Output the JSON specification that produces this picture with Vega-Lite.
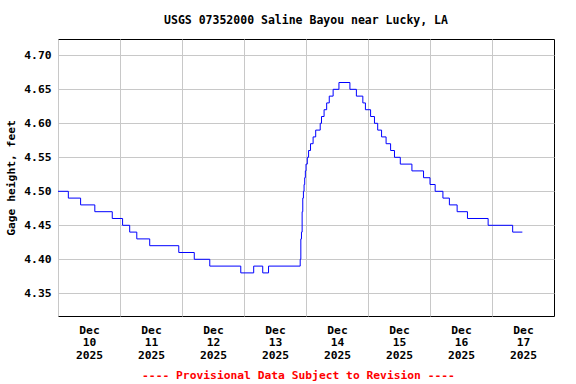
{
  "$schema": "https://vega.github.io/schema/vega-lite/v6.json",
  "width": 496,
  "height": 277,
  "autosize": {"type": "none"},
  "padding": {"left": 58, "top": 39, "right": 22, "bottom": 68},
  "background": "white",
  "title": {
    "text": "USGS 07352000 Saline Bayou near Lucky, LA",
    "font": "DejaVu Sans Mono",
    "fontSize": 11.5,
    "fontWeight": "bold",
    "color": "black",
    "frame": "group",
    "anchor": "middle",
    "baseline": "alphabetic",
    "offset": 4
  },
  "config": {
    "view": {"stroke": "black", "strokeWidth": 1},
    "axis": {
      "labelFont": "DejaVu Sans Mono",
      "labelFontSize": 11.3,
      "labelFontWeight": "bold",
      "labelColor": "black",
      "titleFont": "DejaVu Sans Mono",
      "titleFontSize": 11.3,
      "titleFontWeight": "bold",
      "titleColor": "black",
      "gridColor": "#c8c8c8",
      "gridWidth": 1,
      "gridOpacity": 1,
      "ticks": false,
      "domain": false
    }
  },
  "data": {
    "values": [
      {"t": "2025-12-10T00:00:00", "v": 4.50},
      {"t": "2025-12-10T04:00:00", "v": 4.49},
      {"t": "2025-12-10T08:45:00", "v": 4.48},
      {"t": "2025-12-10T14:15:00", "v": 4.47},
      {"t": "2025-12-10T21:00:00", "v": 4.46},
      {"t": "2025-12-11T01:00:00", "v": 4.45},
      {"t": "2025-12-11T03:45:00", "v": 4.44},
      {"t": "2025-12-11T06:30:00", "v": 4.43},
      {"t": "2025-12-11T11:30:00", "v": 4.42},
      {"t": "2025-12-11T22:45:00", "v": 4.41},
      {"t": "2025-12-12T04:45:00", "v": 4.40},
      {"t": "2025-12-12T10:45:00", "v": 4.39},
      {"t": "2025-12-12T22:45:00", "v": 4.38},
      {"t": "2025-12-13T03:45:00", "v": 4.39},
      {"t": "2025-12-13T07:15:00", "v": 4.38},
      {"t": "2025-12-13T09:30:00", "v": 4.39},
      {"t": "2025-12-13T21:45:00", "v": 4.40},
      {"t": "2025-12-13T22:00:00", "v": 4.43},
      {"t": "2025-12-13T22:15:00", "v": 4.44},
      {"t": "2025-12-13T22:30:00", "v": 4.47},
      {"t": "2025-12-13T22:45:00", "v": 4.49},
      {"t": "2025-12-13T23:00:00", "v": 4.50},
      {"t": "2025-12-13T23:15:00", "v": 4.51},
      {"t": "2025-12-13T23:30:00", "v": 4.52},
      {"t": "2025-12-13T23:45:00", "v": 4.53},
      {"t": "2025-12-14T00:00:00", "v": 4.54},
      {"t": "2025-12-14T00:30:00", "v": 4.55},
      {"t": "2025-12-14T01:00:00", "v": 4.56},
      {"t": "2025-12-14T01:45:00", "v": 4.57},
      {"t": "2025-12-14T02:45:00", "v": 4.58},
      {"t": "2025-12-14T03:45:00", "v": 4.59},
      {"t": "2025-12-14T05:30:00", "v": 4.60},
      {"t": "2025-12-14T06:00:00", "v": 4.61},
      {"t": "2025-12-14T07:00:00", "v": 4.62},
      {"t": "2025-12-14T08:00:00", "v": 4.63},
      {"t": "2025-12-14T09:00:00", "v": 4.64},
      {"t": "2025-12-14T10:30:00", "v": 4.65},
      {"t": "2025-12-14T12:45:00", "v": 4.66},
      {"t": "2025-12-14T17:00:00", "v": 4.65},
      {"t": "2025-12-14T19:30:00", "v": 4.64},
      {"t": "2025-12-14T22:00:00", "v": 4.63},
      {"t": "2025-12-14T23:00:00", "v": 4.62},
      {"t": "2025-12-15T01:00:00", "v": 4.61},
      {"t": "2025-12-15T02:30:00", "v": 4.60},
      {"t": "2025-12-15T03:45:00", "v": 4.59},
      {"t": "2025-12-15T05:15:00", "v": 4.58},
      {"t": "2025-12-15T07:00:00", "v": 4.57},
      {"t": "2025-12-15T08:45:00", "v": 4.56},
      {"t": "2025-12-15T10:15:00", "v": 4.55},
      {"t": "2025-12-15T12:30:00", "v": 4.54},
      {"t": "2025-12-15T17:00:00", "v": 4.53},
      {"t": "2025-12-15T21:30:00", "v": 4.52},
      {"t": "2025-12-16T00:00:00", "v": 4.51},
      {"t": "2025-12-16T02:00:00", "v": 4.50},
      {"t": "2025-12-16T05:00:00", "v": 4.49},
      {"t": "2025-12-16T07:30:00", "v": 4.48},
      {"t": "2025-12-16T10:30:00", "v": 4.47},
      {"t": "2025-12-16T14:30:00", "v": 4.46},
      {"t": "2025-12-16T22:30:00", "v": 4.45},
      {"t": "2025-12-17T08:00:00", "v": 4.44},
      {"t": "2025-12-17T11:45:00", "v": 4.44}
    ]
  },
  "mark": {"type": "line", "interpolate": "step-after", "color": "#0000ff", "strokeWidth": 1},
  "encoding": {
    "x": {
      "field": "t",
      "type": "temporal",
      "scale": {"domain": [{"year": 2025, "month": 12, "date": 10}, {"year": 2025, "month": 12, "date": 18}]},
      "axis": {
        "values": [
          {"year": 2025, "month": 12, "date": 10},
          {"year": 2025, "month": 12, "date": 11},
          {"year": 2025, "month": 12, "date": 12},
          {"year": 2025, "month": 12, "date": 13},
          {"year": 2025, "month": 12, "date": 14},
          {"year": 2025, "month": 12, "date": 15},
          {"year": 2025, "month": 12, "date": 16},
          {"year": 2025, "month": 12, "date": 17}
        ],
        "grid": true,
        "labelOffset": 31,
        "labelFlush": false,
        "labelOverlap": false,
        "labelBound": false,
        "labelPadding": 8,
        "labelLineHeight": 12.8,
        "labelExpr": "[timeFormat(datum.value, '%b'), timeFormat(datum.value, '%d'), timeFormat(datum.value, '%Y')]",
        "title": "---- Provisional Data Subject to Revision ----",
        "titleColor": "#ff0000",
        "titleX": 240,
        "titlePadding": 9
      }
    },
    "y": {
      "field": "v",
      "type": "quantitative",
      "scale": {"domain": [4.3166, 4.724], "nice": false, "zero": false},
      "axis": {
        "values": [4.35, 4.4, 4.45, 4.5, 4.55, 4.6, 4.65, 4.7],
        "format": ".2f",
        "grid": true,
        "labelPadding": 7,
        "title": "Gage height, feet",
        "titlePadding": 7
      }
    }
  }
}
